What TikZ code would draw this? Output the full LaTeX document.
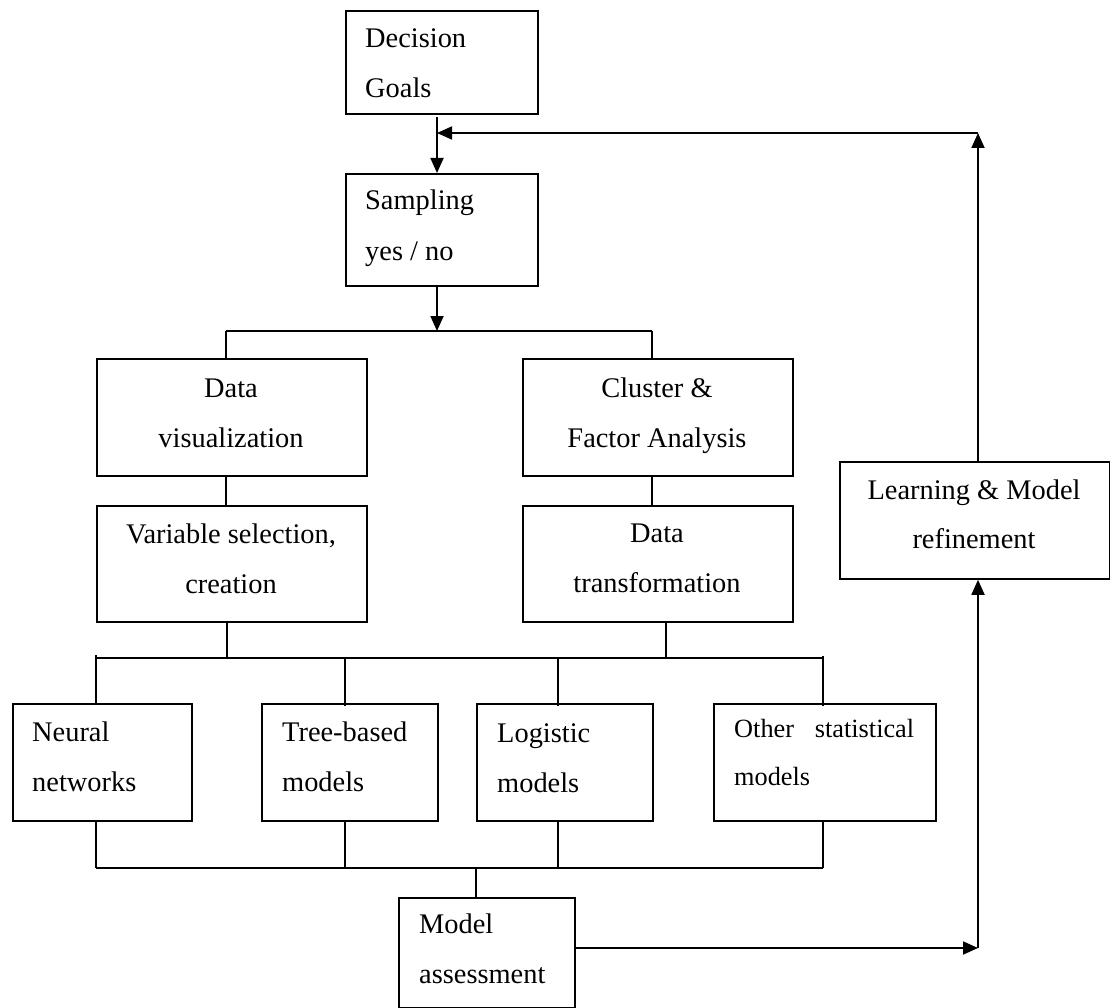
\documentclass[tikz,border=0pt]{standalone}
\usepackage{fontspec}
\setmainfont{Liberation Serif}
\usetikzlibrary{arrows.meta}
\begin{document}
\begin{tikzpicture}[x=1pt,y=-1pt,
  box/.style={draw, line width=1.8pt, anchor=north west, inner sep=0pt},
  lbl/.style={inner sep=0pt, font=\fontsize{28.4}{34}\selectfont},
  lblw/.style={lbl, anchor=base west},
  lblc/.style={lbl, anchor=base},
  wire/.style={line width=1.8pt},
  arr/.style={wire, -{Triangle[length=15pt,width=13pt]}}]
\fill[white] (0,0) rectangle (1110,1008);
\useasboundingbox (0,0) rectangle (1110,1008);

% boxes
\node[box, minimum width=192pt, minimum height=103pt] (dec)   at (345,10)  {};
\node[box, minimum width=192pt, minimum height=112pt] (samp)  at (345,173) {};
\node[box, minimum width=270pt, minimum height=117pt] (vis)   at (96,358)  {};
\node[box, minimum width=270pt, minimum height=117pt] (clu)   at (522,358) {};
\node[box, minimum width=270pt, minimum height=116pt] (var)   at (96,505)  {};
\node[box, minimum width=270pt, minimum height=116pt] (dtr)   at (522,505) {};
\node[box, minimum width=179pt, minimum height=117pt] (neu)   at (12,703)  {};
\node[box, minimum width=176pt, minimum height=117pt] (tree)  at (261,703) {};
\node[box, minimum width=176pt, minimum height=117pt] (logi)  at (476,703) {};
\node[box, minimum width=222pt, minimum height=117pt] (oth)   at (713,703) {};
\node[box, minimum width=176pt, minimum height=110pt] (mod)   at (398,897) {};
\node[box, minimum width=270pt, minimum height=117pt] (learn) at (839,461) {};

% box texts
\node[lblw] (decA) at (365,48)  {Decision};
\node[lblw] (decB) at (365,98)  {Goals};
\node[lblw] (sampA) at (365,210) {Sampling};
\node[lblw] (sampB) at (365,260) {yes / no};
\node[lblc] (visA) at (231,397) {Data};
\node[lblc] (visB) at (231,447) {visualization};
\node[lblc] (cluA) at (657,397) {Cluster \&};
\node[lblc] (cluB) at (657,447) {Factor Analysis};
\node[lblc] (varA) at (231,543) {Variable selection,};
\node[lblc] (varB) at (231,593) {creation};
\node[lblc] (dtrA) at (657,542) {Data};
\node[lblc] (dtrB) at (657,592) {transformation};
\node[lblw] (neuA) at (32,741)  {Neural};
\node[lblw] (neuB) at (32,791)  {networks};
\node[lblw] (treeA) at (282,741) {Tree-based};
\node[lblw] (treeB) at (282,791) {models};
\node[lblw] (logiA) at (497,742) {Logistic};
\node[lblw] (logiB) at (497,792) {models};
\node[lblw, font=\fontsize{26.3}{32}\selectfont] (othA) at (734,737) {\hbox to 180pt{Other\hfill statistical}};
\node[lblw, font=\fontsize{26.3}{32}\selectfont] (othB) at (734,785) {models};
\node[lblw] (modA) at (419,933) {Model};
\node[lblw] (modB) at (419,983) {assessment};
\node[lblc] (learnA) at (974,499) {Learning \& Model};
\node[lblc] (learnB) at (974,548) {refinement};

% junction points
\coordinate (drop) at (437,117);
\coordinate (fbk)  at (978,133);
\coordinate (brL)  at (226,331);
\coordinate (brR)  at (652,331);
\coordinate (vJ)   at (227,658);
\coordinate (tJ)   at (666,658);
\coordinate (k1)   at (96,658);
\coordinate (k2)   at (345,658);
\coordinate (k3)   at (558,658);
\coordinate (k4)   at (823,658);
\coordinate (b1)   at (96,868);
\coordinate (b2)   at (345,868);
\coordinate (b3)   at (558,868);
\coordinate (b4)   at (823,868);
\coordinate (mJ)   at (476,868);
\coordinate (rc)   at (978,948);

% main flow
\draw[arr] (drop) -- (drop |- samp.north);
\draw[arr] (drop |- samp.south) -- (drop |- brL);
\draw[wire] (brL) -- (brR);
\draw[wire] (brL) -- (brL |- vis.north);
\draw[wire] (brR) -- (brR |- clu.north);
\draw[wire] (brL |- vis.south) -- (brL |- var.north);
\draw[wire] (brR |- clu.south) -- (brR |- dtr.north);

% fan out to the models
\draw[wire] (vJ |- var.south) -- (vJ);
\draw[wire] (tJ |- dtr.south) -- (tJ);
\draw[wire] (k1) -- (k4);
\draw[wire] ([yshift=3pt]k1) -- (k1 |- neu.north);
\draw[wire] (k2) -- ([yshift=-3pt]k2 |- tree.north);
\draw[wire] (k3) -- ([yshift=-3pt]k3 |- logi.north);
\draw[wire] ([yshift=2pt]k4) -- ([yshift=-3pt]k4 |- oth.north);

% fan in to the assessment
\draw[wire] (b1 |- neu.south) -- (b1);
\draw[wire] (b2 |- tree.south) -- (b2);
\draw[wire] (b3 |- logi.south) -- (b3);
\draw[wire] (b4 |- oth.south) -- (b4);
\draw[wire] (b1) -- (b4);
\draw[wire] (mJ) -- (mJ |- mod.north);

% feedback loop
\draw[arr] (mod.east |- rc) -- (rc);
\draw[arr] (rc) -- (rc |- learn.south);
\draw[arr] (fbk |- learn.north) -- (fbk);
\draw[arr] (fbk) -- (fbk -| drop);
\end{tikzpicture}
\end{document}
